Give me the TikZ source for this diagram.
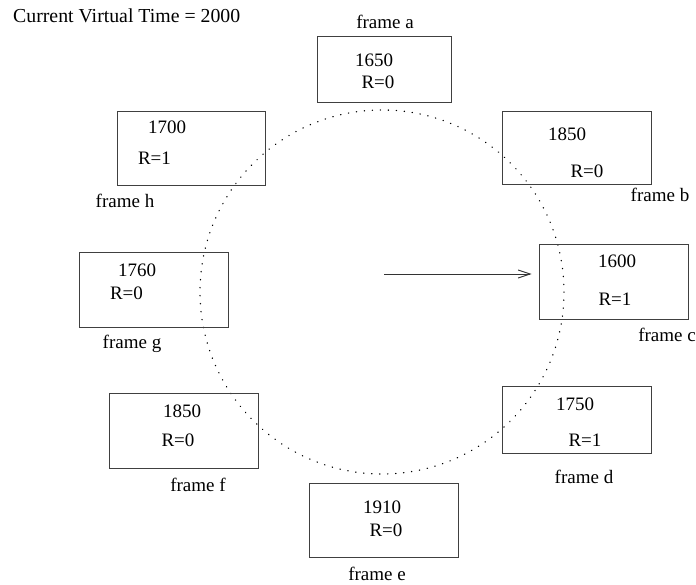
\documentclass[tikz,border=0pt]{standalone}
\usepackage{fontspec}
\setmainfont{Liberation Serif}
\usetikzlibrary{arrows.meta}
\tikzset{
  framebox/.style={draw=black!75, line width=0.9pt, rectangle, inner sep=0pt},
  lbl/.style={anchor=base, inner sep=0pt, font=\fontsize{19}{22}\selectfont},
  ring/.style={draw=black, line width=1.3pt, line cap=round, dash pattern=on 0.3pt off 7.7pt},
  ptr/.style={draw=black!80, line width=0.9pt, -{Straight Barb[length=12pt,width=8pt,line width=0.9pt]}}
}
\begin{document}
\begin{tikzpicture}[x=1pt,y=-1pt]
\useasboundingbox (0,0) rectangle (696,584);
% ring
\path[ring] (382,292) circle[radius=182];
% boxes
\node[framebox, minimum width=134pt, minimum height=66pt] (a) at (384,69) {};
\node[framebox, minimum width=149pt, minimum height=73pt] (b) at (576.5,147.5) {};
\node[framebox, minimum width=149pt, minimum height=75pt] (c) at (613.5,281.5) {};
\node[framebox, minimum width=149pt, minimum height=67pt] (d) at (576.5,419.5) {};
\node[framebox, minimum width=149pt, minimum height=74pt] (e) at (383.5,520) {};
\node[framebox, minimum width=149pt, minimum height=75pt] (f) at (183.5,430.5) {};
\node[framebox, minimum width=149pt, minimum height=75pt] (g) at (153.5,289.5) {};
\node[framebox, minimum width=148pt, minimum height=74pt] (h) at (191,148) {};
% title
\node[lbl, anchor=base west, font=\fontsize{19.8}{22}\selectfont] (title) at (13,22) {Current Virtual Time = 2000};
% frame labels
\node[lbl] (la) at (385,28) {frame a};
\node[lbl] (lb) at (660,201) {frame b};
\node[lbl] (lc) at (667,341) {frame c};
\node[lbl] (ld) at (584,483) {frame d};
\node[lbl] (le) at (377,580) {frame e};
\node[lbl] (lf) at (198,491) {frame f};
\node[lbl] (lg) at (132,348) {frame g};
\node[lbl] (lh) at (125,207) {frame h};
% box contents
\node[lbl] (ta) at (374,66) {1650};
\node[lbl] (ra) at (378,88) {R=0};
\node[lbl] (tb) at (567,140) {1850};
\node[lbl] (rb) at (587,177) {R=0};
\node[lbl] (tc) at (617,267) {1600};
\node[lbl] (rc) at (615,305) {R=1};
\node[lbl] (td) at (575,410) {1750};
\node[lbl] (rd) at (585,446) {R=1};
\node[lbl] (te) at (382,513) {1910};
\node[lbl] (re) at (386,536) {R=0};
\node[lbl] (tf) at (182,417) {1850};
\node[lbl] (rf) at (178,446) {R=0};
\node[lbl] (tg) at (137,276) {1760};
\node[lbl] (rg) at (126.5,299) {R=0};
\node[lbl] (th) at (167,133) {1700};
\node[lbl] (rh) at (154.5,164) {R=1};
% pointer
\coordinate (hub) at (384,274);
\draw[ptr, shorten >=7pt] (hub) -- (c.west |- hub);
\end{tikzpicture}
\end{document}
